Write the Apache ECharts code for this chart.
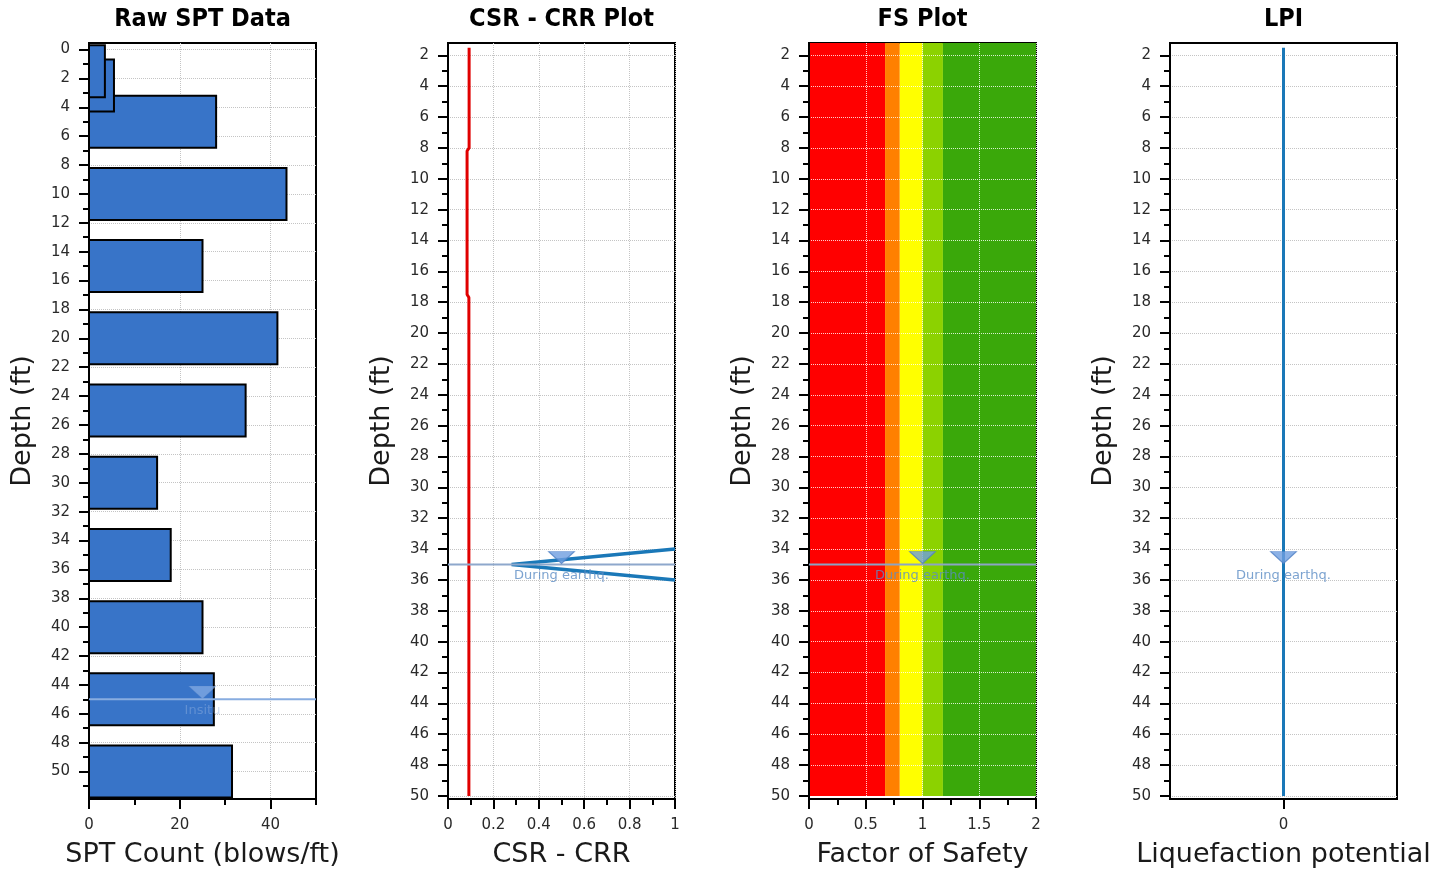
<!DOCTYPE html>
<html>
<head>
<meta charset="utf-8">
<script src="https://cdn.jsdelivr.net/npm/echarts@6/dist/echarts.min.js"></script>
<style>
  html, body { margin: 0; padding: 0; background: #ffffff; }
  #chart { width: 1442px; height: 869px; }
</style>
</head>
<body>
<div id="chart"></div>
<script>
// ---- SPT blow counts by sample depth (ft) ----
const sptDepths = [1.5, 2.5, 5, 10, 15, 20, 25, 30, 35, 40, 45, 50];
const sptCounts = [3.5, 5.5, 28, 43.5, 25, 41.5, 34.5, 15, 18, 25, 27.5, 31.5];

// ---- cyclic resistance ratio profile ----
const crrDepths = [1.5, 8.0, 8.2, 17.5, 17.7, 50.0];
const crrValues = [0.093, 0.093, 0.084, 0.084, 0.092, 0.092];

// ---- cyclic stress ratio near the design water table ----
const csrDepths = [34.0, 35.0, 36.0];
const csrValues = [1.0, 0.28, 1.0];

// ---- factor of safety colour classes ----
const fsBandEdges = [0, 0.67, 0.8, 1.0, 1.18, 2.0];
const fsBandColors = ['#ff0000', '#ff8000', '#ffff00', '#8cd200', '#3aa80a'];
const fsDepthRange = [1.2, 50.0];

// ---- liquefaction potential index ----
const lpiDepths = [1.5, 50.0];
const lpiValues = [0, 0];

// ---- water tables (ft) ----
const waterInsitu = 45;
const waterDuring = 35;

// ---- tick values ----
const sptDepthTicks = [0, 2, 4, 6, 8, 10, 12, 14, 16, 18, 20, 22, 24, 26, 28, 30, 32, 34, 36, 38, 40, 42, 44, 46, 48, 50];
const sptDepthMinor = [1, 3, 5, 7, 9, 11, 13, 15, 17, 19, 21, 23, 25, 27, 29, 31, 33, 35, 37, 39, 41, 43, 45, 47, 49, 51];
const depthTicks = [2, 4, 6, 8, 10, 12, 14, 16, 18, 20, 22, 24, 26, 28, 30, 32, 34, 36, 38, 40, 42, 44, 46, 48, 50];
const depthMinor = [3, 5, 7, 9, 11, 13, 15, 17, 19, 21, 23, 25, 27, 29, 31, 33, 35, 37, 39, 41, 43, 45, 47, 49];
const sptCountTicks = [0, 20, 40];
const sptCountMinor = [10, 30, 50];
const ratioTicks = [0, 0.2, 0.4, 0.6, 0.8, 1];
const ratioMinor = [0.1, 0.3, 0.5, 0.7, 0.9];
const fsTicks = [0, 0.5, 1, 1.5, 2];
const fsMinor = [0.25, 0.75, 1.25, 1.75];
const lpiTicks = [0];

const FONT = 'DejaVu Sans';
const TITLE_FONT = '"DejaVu Sans Condensed", "DejaVu Sans"';

const panels = [
  { title: 'Raw SPT Data', xName: 'SPT Count (blows/ft)', left: 89, xMin: 0, xMax: 50,
    xMajor: sptCountTicks, xMinor: sptCountMinor, yMin: -0.45, yMax: 51.9,
    yMajor: sptDepthTicks, yMinor: sptDepthMinor, xSplit: true, splitOnTop: false },
  { title: 'CSR - CRR Plot', xName: 'CSR - CRR', left: 448, xMin: 0, xMax: 1,
    xMajor: ratioTicks, xMinor: ratioMinor, yMin: 1.2, yMax: 50.2,
    yMajor: depthTicks, yMinor: depthMinor, xSplit: true, splitOnTop: false },
  { title: 'FS Plot', xName: 'Factor of Safety', left: 809, xMin: 0, xMax: 2,
    xMajor: fsTicks, xMinor: fsMinor, yMin: 1.2, yMax: 50.2,
    yMajor: depthTicks, yMinor: depthMinor, xSplit: true, splitOnTop: true },
  { title: 'LPI', xName: 'Liquefaction potential', left: 1170, xMin: -1, xMax: 1,
    xMajor: lpiTicks, xMinor: [], yMin: 1.2, yMax: 50.2,
    yMajor: depthTicks, yMinor: depthMinor, xSplit: false, splitOnTop: false }
];

const PLOT_W = 227, PLOT_TOP = 43, PLOT_H = 756;

const grids = [], xAxes = [], yAxes = [], titles = [];
const gridLine = (onTop) => ({
  show: true,
  lineStyle: { type: 'dotted', width: 1, color: onTop ? 'rgba(255,255,255,0.8)' : '#c4c4c4' }
});

panels.forEach((p, i) => {
  grids.push({ left: p.left, top: PLOT_TOP, width: PLOT_W, height: PLOT_H,
    outerBoundsMode: 'none', containLabel: false,
    show: true, borderColor: '#000', borderWidth: 2, backgroundColor: 'transparent' });
  titles.push({ text: p.title, left: p.left + PLOT_W / 2, top: 7, padding: 0, textAlign: 'center',
    textStyle: { fontFamily: TITLE_FONT, fontSize: 25, fontWeight: 'bold', color: '#000' } });

  const z = p.splitOnTop ? 5 : 0;
  // major x axis: labels, long ticks, vertical grid
  xAxes.push({
    type: 'value', gridIndex: i, position: 'bottom', min: p.xMin, max: p.xMax, z,
    name: p.xName, nameLocation: 'middle', nameGap: 42,
    nameTextStyle: { fontFamily: FONT, fontSize: 27, color: '#1a1a1a' },
    axisLine: { show: true, onZero: false, lineStyle: { color: '#000', width: 2 } },
    axisTick: { show: true, customValues: p.xMajor, length: 10, lineStyle: { color: '#000', width: 2 } },
    axisLabel: { customValues: p.xMajor, margin: 19, fontFamily: FONT, fontSize: 15, color: '#2a2a2a' },
    splitLine: p.xSplit ? gridLine(p.splitOnTop) : { show: false }
  });
  // minor x ticks
  xAxes.push({
    type: 'value', gridIndex: i, position: 'bottom', min: p.xMin, max: p.xMax, z,
    axisLine: { show: false, onZero: false },
    axisTick: { show: p.xMinor.length > 0, customValues: p.xMinor.length ? p.xMinor : [p.xMin],
      length: 6, lineStyle: { color: '#000', width: 2 } },
    axisLabel: { show: false }, splitLine: { show: false }
  });
  // major y axis: depth labels, long ticks, horizontal grid
  yAxes.push({
    type: 'value', gridIndex: i, position: 'left', inverse: true, min: p.yMin, max: p.yMax, z,
    name: 'Depth (ft)', nameLocation: 'middle', nameGap: 53,
    nameTextStyle: { fontFamily: FONT, fontSize: 27, color: '#1a1a1a' },
    axisLine: { show: true, onZero: false, lineStyle: { color: '#000', width: 2 } },
    axisTick: { show: true, customValues: p.yMajor, length: 10, lineStyle: { color: '#000', width: 2 } },
    axisLabel: { customValues: p.yMajor, margin: 19, fontFamily: FONT, fontSize: 15, color: '#2a2a2a' },
    splitLine: gridLine(p.splitOnTop)
  });
  // minor y ticks
  yAxes.push({
    type: 'value', gridIndex: i, position: 'left', inverse: true, min: p.yMin, max: p.yMax, z,
    axisLine: { show: false, onZero: false },
    axisTick: { show: true, customValues: p.yMinor, length: 6, lineStyle: { color: '#000', width: 2 } },
    axisLabel: { show: false }, splitLine: { show: false }
  });
});

// ---- helpers for the water-table markers ----
const downTriangle = 'path://M0,0 L20,0 L10,9 Z';
function waterMarker(panel, x, depth, text, faded) {
  const out = [];
  out.push({
    type: 'scatter', xAxisIndex: panel * 2, yAxisIndex: panel * 2, z: 12, silent: true,
    symbol: downTriangle, symbolSize: [26, 12], symbolOffset: [0, -7],
    itemStyle: faded
      ? { color: 'rgba(150,185,235,0.75)', borderColor: 'rgba(130,165,220,0.6)', borderWidth: 1 }
      : { color: '#6e9ee0', borderColor: '#4f80c4', borderWidth: 1 },
    data: [[x, depth]]
  });
  out.push({
    type: 'scatter', xAxisIndex: panel * 2, yAxisIndex: panel * 2, z: 12, silent: true,
    symbolSize: 0, data: [[x, depth]],
    label: { show: true, position: 'bottom', distance: 5, formatter: text,
      fontFamily: FONT, fontSize: 13, color: faded ? 'rgba(150,180,225,0.55)' : '#5b8cc4' }
  });
  return out;
}
function waterLine(panel, xMin, xMax, depth, color) {
  return {
    type: 'line', xAxisIndex: panel * 2, yAxisIndex: panel * 2, z: 11, silent: true,
    symbol: 'none', lineStyle: { color, width: 2 },
    data: [[xMin, depth], [xMax, depth]]
  };
}

const half = 1.8; // half thickness of an SPT bar, ft
const sptData = sptDepths.map((d, i) => [sptCounts[i], d]).reverse();

const series = [
  // SPT bars
  {
    type: 'custom', xAxisIndex: 0, yAxisIndex: 0, z: 3, silent: true,
    encode: { x: 0, y: 1 },
    data: sptData,
    renderItem(params, api) {
      const count = api.value(0), depth = api.value(1);
      const a = api.coord([0, depth - half]);
      const b = api.coord([count, depth + half]);
      return {
        type: 'rect',
        shape: { x: a[0], y: a[1], width: b[0] - a[0], height: b[1] - a[1] },
        style: { fill: '#3874c8', stroke: '#000', lineWidth: 2 }
      };
    }
  },
  waterLine(0, 0, 50, waterInsitu, '#88ade0'),
  ...waterMarker(0, 25, waterInsitu, 'Insitu', true),

  // CRR profile
  {
    type: 'line', xAxisIndex: 2, yAxisIndex: 2, z: 4, silent: true, symbol: 'none',
    lineStyle: { color: '#e00000', width: 3 },
    data: crrDepths.map((d, i) => [crrValues[i], d])
  },
  // CSR segment
  {
    type: 'line', xAxisIndex: 2, yAxisIndex: 2, z: 4, silent: true, symbol: 'none',
    lineStyle: { color: '#1a78b8', width: 3.5 },
    data: csrDepths.map((d, i) => [csrValues[i], d])
  },
  waterLine(1, 0, 1, waterDuring, '#8ea8cc'),
  ...waterMarker(1, 0.5, waterDuring, 'During earthq.', false),

  // FS colour classes
  {
    type: 'custom', xAxisIndex: 4, yAxisIndex: 4, z: 1, silent: true,
    encode: { x: [0, 1], y: [2, 3] },
    data: fsBandColors.map((c, i) => [fsBandEdges[i], fsBandEdges[i + 1], fsDepthRange[0], fsDepthRange[1]]),
    renderItem(params, api) {
      const a = api.coord([api.value(0), api.value(2)]);
      const b = api.coord([api.value(1), api.value(3)]);
      return {
        type: 'rect',
        shape: { x: a[0], y: a[1], width: b[0] - a[0], height: b[1] - a[1] },
        style: { fill: fsBandColors[params.dataIndex] }
      };
    }
  },
  waterLine(2, 0, 2, waterDuring, '#8ca4c4'),
  ...waterMarker(2, 1, waterDuring, 'During earthq.', false),

  // LPI profile
  {
    type: 'line', xAxisIndex: 6, yAxisIndex: 6, z: 4, silent: true, symbol: 'none',
    lineStyle: { color: '#1a78b8', width: 3 },
    data: lpiDepths.map((d, i) => [lpiValues[i], d])
  },
  ...waterMarker(3, 0, waterDuring, 'During earthq.', false)
];

const chart = echarts.init(document.getElementById('chart'), null, { renderer: 'canvas' });
chart.setOption({
  animation: false,
  backgroundColor: '#ffffff',
  title: titles,
  grid: grids,
  xAxis: xAxes,
  yAxis: yAxes,
  series
});
</script>
</body>
</html>
